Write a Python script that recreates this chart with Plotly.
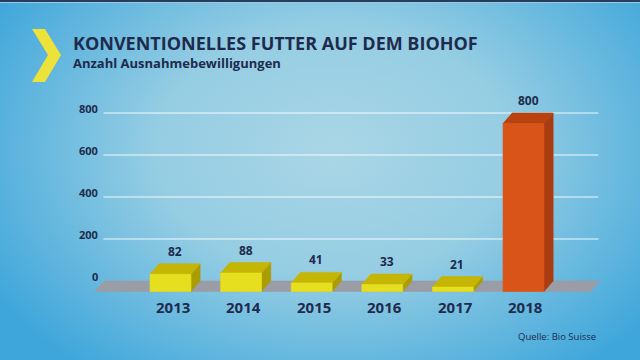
import base64
import plotly.graph_objects as go

# ---- data ----
years = ["2013", "2014", "2015", "2016", "2017", "2018"]
values = [82, 88, 41, 33, 21, 800]
y_ticks = [0, 200, 400, 600, 800]
y_tick_labels = ["0", "200", "400", "600", "800"]
title = "KONVENTIONELLES FUTTER AUF DEM BIOHOF"
subtitle = "Anzahl Ausnahmebewilligungen"
source = "Quelle: Bio Suisse"

# ---- style ----
W, H = 640, 360
NAVY = "#1e2b4d"
front_cols = ["#e6df1f"] * 5 + ["#d95418"]
top_cols = ["#c5b505"] * 5 + ["#b9420f"]
side_cols = ["#ab9d00"] * 5 + ["#a93c10"]
FLOOR = "#9a9ca6"

# depth offsets in axis units
D = 50          # vertical depth (value units)
DX = 0.13       # horizontal depth (category units)
HALF = 0.29     # half width of a bar's front face

fig = go.Figure()


def poly(xs, ys, color):
    fig.add_trace(go.Scatter(x=xs + [xs[0]], y=ys + [ys[0]], fill="toself",
                             fillcolor=color, mode="lines",
                             line=dict(width=0.6, color=color),
                             hoverinfo="skip", showlegend=False))


# gridlines (back plane)
for t in y_ticks[1:]:
    fig.add_trace(go.Scatter(x=[-0.95, 6.06], y=[t, t], mode="lines",
                             line=dict(color="rgba(255,255,255,0.6)", width=1.5),
                             hoverinfo="skip", showlegend=False))

# floor
poly([-1.07, 5.95, 5.95 + DX, -1.07 + DX], [-D, -D, 0, 0], FLOOR)

# bars: side, top, front faces
for i, v in enumerate(values):
    x0, x1 = i - HALF, i + HALF
    poly([x1, x1 + DX, x1 + DX, x1], [-D, 0, v, v - D], side_cols[i])
    poly([x0, x1, x1 + DX, x0 + DX], [v - D, v - D, v, v], top_cols[i])
    poly([x0, x1, x1, x0], [-D, -D, v - D, v - D], front_cols[i])

annotations = []
# value labels
for i, v in enumerate(values):
    annotations.append(dict(x=i + DX / 2, y=v, text="<b>%d</b>" % v, showarrow=False,
                            yanchor="bottom", yshift=2,
                            font=dict(family="Open Sans", size=12, color=NAVY)))
# year labels
for i, yr in enumerate(years):
    annotations.append(dict(x=i + 0.03, y=-D, text="<b>%s</b>" % yr, showarrow=False,
                            yanchor="top", yshift=-3,
                            font=dict(family="Open Sans", size=15, color=NAVY)))
# y tick labels
for t, lab in zip(y_ticks, y_tick_labels):
    annotations.append(dict(x=-1.0, y=t, text="<b>%s</b>" % lab, showarrow=False,
                            xanchor="right", yanchor="middle", yshift=5,
                            font=dict(family="Open Sans", size=11, color=NAVY)))
# title, subtitle, source
annotations.append(dict(xref="paper", yref="paper", x=71 / W, y=1 - 43 / H,
                        text="<b>%s</b>" % title, showarrow=False,
                        xanchor="left", yanchor="middle",
                        font=dict(family="Open Sans", size=18, color=NAVY)))
annotations.append(dict(xref="paper", yref="paper", x=71 / W, y=1 - 63 / H,
                        text="<b>%s</b>" % subtitle, showarrow=False,
                        xanchor="left", yanchor="middle",
                        font=dict(family="Open Sans", size=13, color=NAVY)))
annotations.append(dict(xref="paper", yref="paper", x=598 / W, y=1 - 336 / H,
                        text=source, showarrow=False,
                        xanchor="right", yanchor="middle",
                        font=dict(family="Open Sans", size=9.5, color=NAVY)))

# background gradient as svg image
svg = f"""<svg xmlns='http://www.w3.org/2000/svg' width='{W}' height='{H}' viewBox='0 0 {W} {H}'>
<defs><radialGradient id='g' cx='0.52' cy='0.42' r='0.62' gradientTransform='translate(0.52 0.42) scale(1 1.25) translate(-0.52 -0.42)'>
<stop offset='0' stop-color='#a9d6e6'/><stop offset='0.45' stop-color='#95cde3'/>
<stop offset='1' stop-color='#3ea6db'/></radialGradient></defs>
<rect width='{W}' height='{H}' fill='url(#g)'/>
<rect width='{W}' height='2' fill='#263d5e'/>
<rect y='2' width='{W}' height='1' fill='#9cc8e0'/>
</svg>"""
src = "data:image/svg+xml;base64," + base64.b64encode(svg.encode()).decode()


def px(p):
    return p / W


def py(p):
    return 1 - p / H


chev = [(32, 29), (45, 29), (61, 55), (45, 82), (32, 82), (48, 55)]
path = "M " + " L ".join(f"{px(a):.4f},{py(b):.4f}" for a, b in chev) + " Z"

# axis ranges mapping pixels to data
x_per_px = 1 / 70.6
y_per_px = 1 / 0.21
fig.update_layout(
    width=W, height=H,
    margin=dict(l=0, r=0, t=0, b=0),
    paper_bgcolor="#7cc3e2", plot_bgcolor="rgba(0,0,0,0)",
    xaxis=dict(range=[(0 - 170.5) * x_per_px, (W - 170.5) * x_per_px],
               visible=False, fixedrange=True),
    yaxis=dict(range=[(281 - H) * y_per_px, 281 * y_per_px],
               visible=False, fixedrange=True),
    annotations=annotations,
    images=[dict(source=src, xref="paper", yref="paper", x=0, y=1, sizex=1, sizey=1,
                 xanchor="left", yanchor="top", sizing="stretch", layer="below")],
    shapes=[dict(type="path", xref="paper", yref="paper", path=path,
                 fillcolor="#ede23a", line=dict(width=0))],
    showlegend=False,
)

fig.write_html("out.html", config=dict(displayModeBar=False),
               post_script="document.body.style.margin='0';document.body.style.overflow='hidden';")
